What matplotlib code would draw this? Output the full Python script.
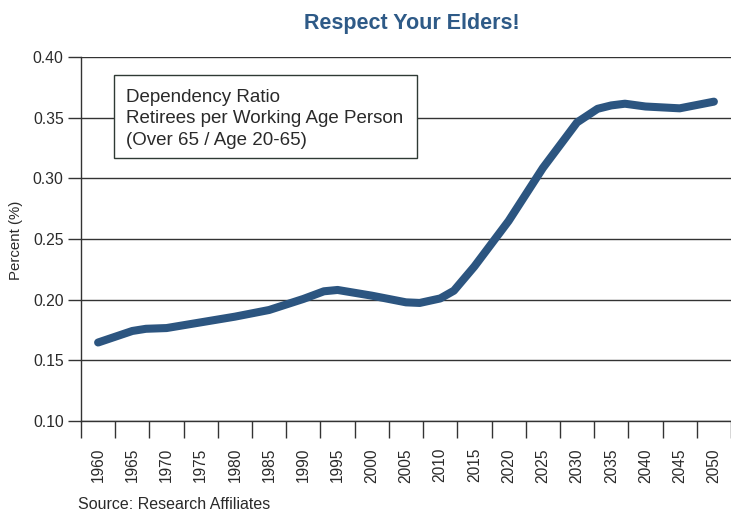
import matplotlib
matplotlib.use("Agg")
import matplotlib.pyplot as plt
from matplotlib.patches import Rectangle

plt.rcParams['font.family'] = ['Liberation Sans', 'DejaVu Sans']

# ---- data ----
years = [1960, 1965, 1967, 1970, 1975, 1980, 1985, 1990, 1993, 1995, 2000,
         2005, 2007, 2010, 2012, 2015, 2020, 2025, 2030, 2033, 2035, 2037,
         2040, 2045, 2050]
ratio = [0.1647, 0.1742, 0.1760, 0.1766, 0.1813, 0.1860, 0.1915, 0.2006,
         0.2069, 0.2080, 0.2033, 0.1978, 0.1973, 0.2010, 0.2074, 0.2274,
         0.2649, 0.3085, 0.3461, 0.3573, 0.3601, 0.3615, 0.3592, 0.3577,
         0.3632]
tick_years = list(range(1960, 2051, 5))
y_ticks = [0.10, 0.15, 0.20, 0.25, 0.30, 0.35, 0.40]
title = "Respect Your Elders!"
legend_lines = "Dependency Ratio\nRetirees per Working Age Person\n(Over 65 / Age 20-65)"
source = "Source: Research Affiliates"

W, H = 731, 512
fig = plt.figure(figsize=(W / 100, H / 100), dpi=100)
ax = fig.add_axes([81 / W, 91 / H, (W - 81) / W, 364 / H])

dark = "#2a2a2a"
line_col = "#2c5580"

ax.plot(years, ratio, color=line_col, lw=5.8, solid_capstyle='round',
        solid_joinstyle='round', zorder=3)

ax.set_ylim(0.10, 0.40)
ax.set_xlim(1957.5, 2051.55)
ax.set_yticks(y_ticks)
ax.set_yticklabels([f"{v:.2f}" for v in y_ticks])
ax.yaxis.grid(True, color="#333333", lw=1.0)
ax.set_axisbelow(True)

# category labels at centres, ticks at boundaries
ax.set_xticks(tick_years)
ax.set_xticklabels([str(y) for y in tick_years], rotation=90)
ax.set_xticks([y - 2.5 for y in tick_years] + [2052.5], minor=True)
ax.tick_params(axis='x', which='major', length=0, pad=19.5, labelsize=11.2,
               colors=dark)
ax.tick_params(axis='x', which='minor', length=12.5, width=1.0, color="#333333")
ax.tick_params(axis='y', length=9.5, width=1.0, pad=3, labelsize=11.3,
               colors=dark, color="#333333")

for s in ['top', 'right']:
    ax.spines[s].set_visible(False)
for s in ['left', 'bottom']:
    ax.spines[s].set_color("#333333")
    ax.spines[s].set_linewidth(1.0)

fig.text(16.5 / W, (H - 240) / H, "Percent (%)", rotation=90, ha='center',
         va='center', fontsize=10.8, color=dark)

fig.text(412 / W, (H - 28.5) / H, title, ha='center', va='baseline',
         fontsize=15.5, fontweight='bold', color="#2e5a87")

fig.text(78 / W, 3 / H, source, ha='left', va='baseline', fontsize=11.5,
         color=dark)

# legend box
fig.patches.append(Rectangle((114 / W, (H - 158) / H), (417 - 114) / W,
                             (158 - 75) / H, transform=fig.transFigure,
                             facecolor='white', edgecolor="#2f3a34", lw=1.0,
                             zorder=5))
fig.text(126 / W, (H - 88.5) / H, legend_lines, ha='left', va='top',
         fontsize=13.5, linespacing=1.36, color=dark, zorder=6)

fig.savefig("out.png", dpi=100)
